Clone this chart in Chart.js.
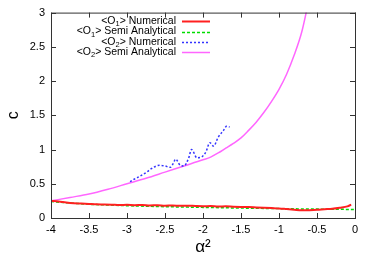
<!DOCTYPE html>
<html>
<head>
<meta charset="utf-8">
<script src="https://cdn.jsdelivr.net/npm/chart.js@4/dist/chart.umd.min.js"></script>
<style>
  html, body { margin: 0; padding: 0; background: #fff; }
  #wrap { width: 374px; height: 262px; position: relative; }
</style>
</head>
<body>
<div id="wrap"><canvas id="c" width="374" height="262"></canvas></div>
<script>
// Datos
const xTicks = [-4, -3.5, -3, -2.5, -2, -1.5, -1, -0.5, 0];
const yTicks = [0, 0.5, 1, 1.5, 2, 2.5, 3];

const o1NumX = [-4, -3.9, -3.8, -3.7, -3.6, -3.5, -3.4, -3.3, -3.2, -3.1, -3, -2.9, -2.8, -2.7, -2.6, -2.5, -2.4, -2.3, -2.2, -2.1, -2, -1.9, -1.8, -1.7, -1.6, -1.5, -1.4, -1.3, -1.2, -1.1, -1, -0.9, -0.8, -0.7, -0.6, -0.5, -0.4, -0.3, -0.2, -0.1, -0.05];
const o1NumY = [0.25, 0.24, 0.225, 0.215, 0.21, 0.205, 0.2, 0.198, 0.195, 0.19, 0.192, 0.188, 0.19, 0.184, 0.186, 0.18, 0.182, 0.178, 0.18, 0.175, 0.172, 0.174, 0.168, 0.17, 0.165, 0.162, 0.16, 0.155, 0.15, 0.145, 0.14, 0.13, 0.12, 0.112, 0.115, 0.12, 0.128, 0.135, 0.15, 0.17, 0.195];

const o1SemiX = [-4, -3.75, -3.5, -3.25, -3, -2.75, -2.5, -2.25, -2, -1.75, -1.5, -1.25, -1, -0.75, -0.5, -0.25, 0];
const o1SemiY = [0.24, 0.22, 0.2, 0.19, 0.18, 0.172, 0.165, 0.16, 0.155, 0.15, 0.145, 0.141, 0.137, 0.133, 0.13, 0.127, 0.125];

const o2NumX = [-2.96, -2.9, -2.83, -2.74, -2.68, -2.57, -2.5, -2.43, -2.39, -2.36, -2.3, -2.25, -2.19, -2.15, -2.08, -2.02, -1.96, -1.91, -1.86, -1.8, -1.73, -1.69, -1.65];
const o2NumY = [0.53, 0.57, 0.61, 0.67, 0.72, 0.77, 0.76, 0.74, 0.8, 0.86, 0.77, 0.76, 0.87, 1.0, 0.88, 0.89, 0.97, 1.1, 1.05, 1.18, 1.28, 1.34, 1.33];

const o2SemiX = [-4, -3.75, -3.5, -3.25, -3, -2.75, -2.5, -2.25, -2, -1.9, -1.8, -1.7, -1.6, -1.5, -1.4, -1.3, -1.2, -1.1, -1, -0.9, -0.8, -0.7, -0.6];
const o2SemiY = [0.25, 0.3, 0.35, 0.42, 0.5, 0.58, 0.67, 0.76, 0.85, 0.89, 0.95, 1.02, 1.09, 1.17, 1.28, 1.4, 1.54, 1.7, 1.88, 2.1, 2.38, 2.72, 3.22];

const pts = (xs, ys) => xs.map((x, i) => ({ x, y: ys[i] }));

const series = [
  { pre: '<O', sub: '1', post: '> Numerical',       color: '#ff2020', dash: [],     width: 2 },
  { pre: '<O', sub: '1', post: '> Semi Analytical', color: '#00dd00', dash: [3, 2], width: 1.5 },
  { pre: '<O', sub: '2', post: '> Numerical',       color: '#3333ff', dash: [2, 2], width: 1.5 },
  { pre: '<O', sub: '2', post: '> Semi Analytical', color: '#ff66ff', dash: [],     width: 1.5 }
];

// Marco con marcas interiores (estilo gnuplot) y leyenda con subíndices
const framePlugin = {
  id: 'frame',
  afterDatasetsDraw(chart) {
    const { ctx, chartArea: a, scales } = chart;
    ctx.save();
    ctx.strokeStyle = '#333';
    ctx.lineWidth = 1;
    ctx.strokeRect(a.left + 0.5, a.top + 0.5, a.right - a.left, a.bottom - a.top);
    ctx.beginPath();
    xTicks.forEach(v => {
      const px = Math.round(scales.x.getPixelForValue(v)) + 0.5;
      ctx.moveTo(px, a.bottom); ctx.lineTo(px, a.bottom - 5);
      ctx.moveTo(px, a.top);    ctx.lineTo(px, a.top + 5);
    });
    yTicks.forEach(v => {
      const py = Math.round(scales.y.getPixelForValue(v)) + 0.5;
      ctx.moveTo(a.left, py);  ctx.lineTo(a.left + 5, py);
      ctx.moveTo(a.right, py); ctx.lineTo(a.right - 5, py);
    });
    ctx.stroke();

    // Leyenda
    const right = 176, rows = [21, 31.5, 42, 52];
    const fMain = '10.5px "Liberation Sans", Arial, sans-serif';
    const fSub = '7.5px "Liberation Sans", Arial, sans-serif';
    ctx.fillStyle = '#000';
    ctx.textBaseline = 'middle';
    ctx.textAlign = 'left';
    series.forEach((s, i) => {
      const y = rows[i];
      ctx.font = fMain; const w1 = ctx.measureText(s.pre).width; const w3 = ctx.measureText(s.post).width;
      ctx.font = fSub;  const w2 = ctx.measureText(s.sub).width;
      let x = right - (w1 + w2 + w3);
      ctx.font = fMain; ctx.fillText(s.pre, x, y); x += w1;
      ctx.font = fSub;  ctx.fillText(s.sub, x, y + 3); x += w2;
      ctx.font = fMain; ctx.fillText(s.post, x, y);
      ctx.beginPath();
      ctx.strokeStyle = s.color;
      ctx.lineWidth = s.width;
      ctx.setLineDash(s.dash);
      ctx.moveTo(182, Math.round(y) + 0.5); ctx.lineTo(210, Math.round(y) + 0.5);
      ctx.stroke();
      ctx.setLineDash([]);
    });
    ctx.restore();
  }
};

const dataSets = [pts(o1NumX, o1NumY), pts(o1SemiX, o1SemiY), pts(o2NumX, o2NumY), pts(o2SemiX, o2SemiY)];

new Chart(document.getElementById('c').getContext('2d'), {
  type: 'line',
  data: {
    datasets: series.map((s, i) => ({
      label: s.pre + s.sub + s.post,
      data: dataSets[i],
      borderColor: s.color,
      backgroundColor: s.color,
      borderWidth: s.width,
      borderDash: s.dash,
      pointRadius: 0,
      fill: false,
      cubicInterpolationMode: 'monotone'
    }))
  },
  options: {
    responsive: false,
    animation: false,
    layout: { padding: { top: 12, right: 19, left: 0, bottom: 0 } },
    plugins: { legend: { display: false }, tooltip: { enabled: false } },
    scales: {
      x: {
        type: 'linear', min: -4, max: 0,
        afterBuildTicks: (s) => { s.ticks = xTicks.map(v => ({ value: v })); },
        afterFit: (s) => { s.height = 44; },
        grid: { display: false, drawTicks: false },
        border: { display: false },
        ticks: { color: '#000', padding: 5, maxRotation: 0, autoSkip: false,
                 callback: (v) => String(v),
                 font: { family: '"Liberation Sans", Arial, sans-serif', size: 11 } },
        title: { display: true, text: 'α²', color: '#000', padding: { top: 0 },
                 font: { family: '"Liberation Sans", Arial, sans-serif', size: 17 } }
      },
      y: {
        min: 0, max: 3,
        afterBuildTicks: (s) => { s.ticks = yTicks.map(v => ({ value: v })); },
        afterFit: (s) => { s.width = 51; },
        grid: { display: false, drawTicks: false },
        border: { display: false },
        ticks: { color: '#000', padding: 6, autoSkip: false,
                 callback: (v) => String(v),
                 font: { family: '"Liberation Sans", Arial, sans-serif', size: 11 } },
        title: { display: true, text: 'c', color: '#000', padding: { bottom: 4 },
                 font: { family: '"Liberation Sans", Arial, sans-serif', size: 16 } }
      }
    }
  },
  plugins: [framePlugin]
});
</script>
</body>
</html>
